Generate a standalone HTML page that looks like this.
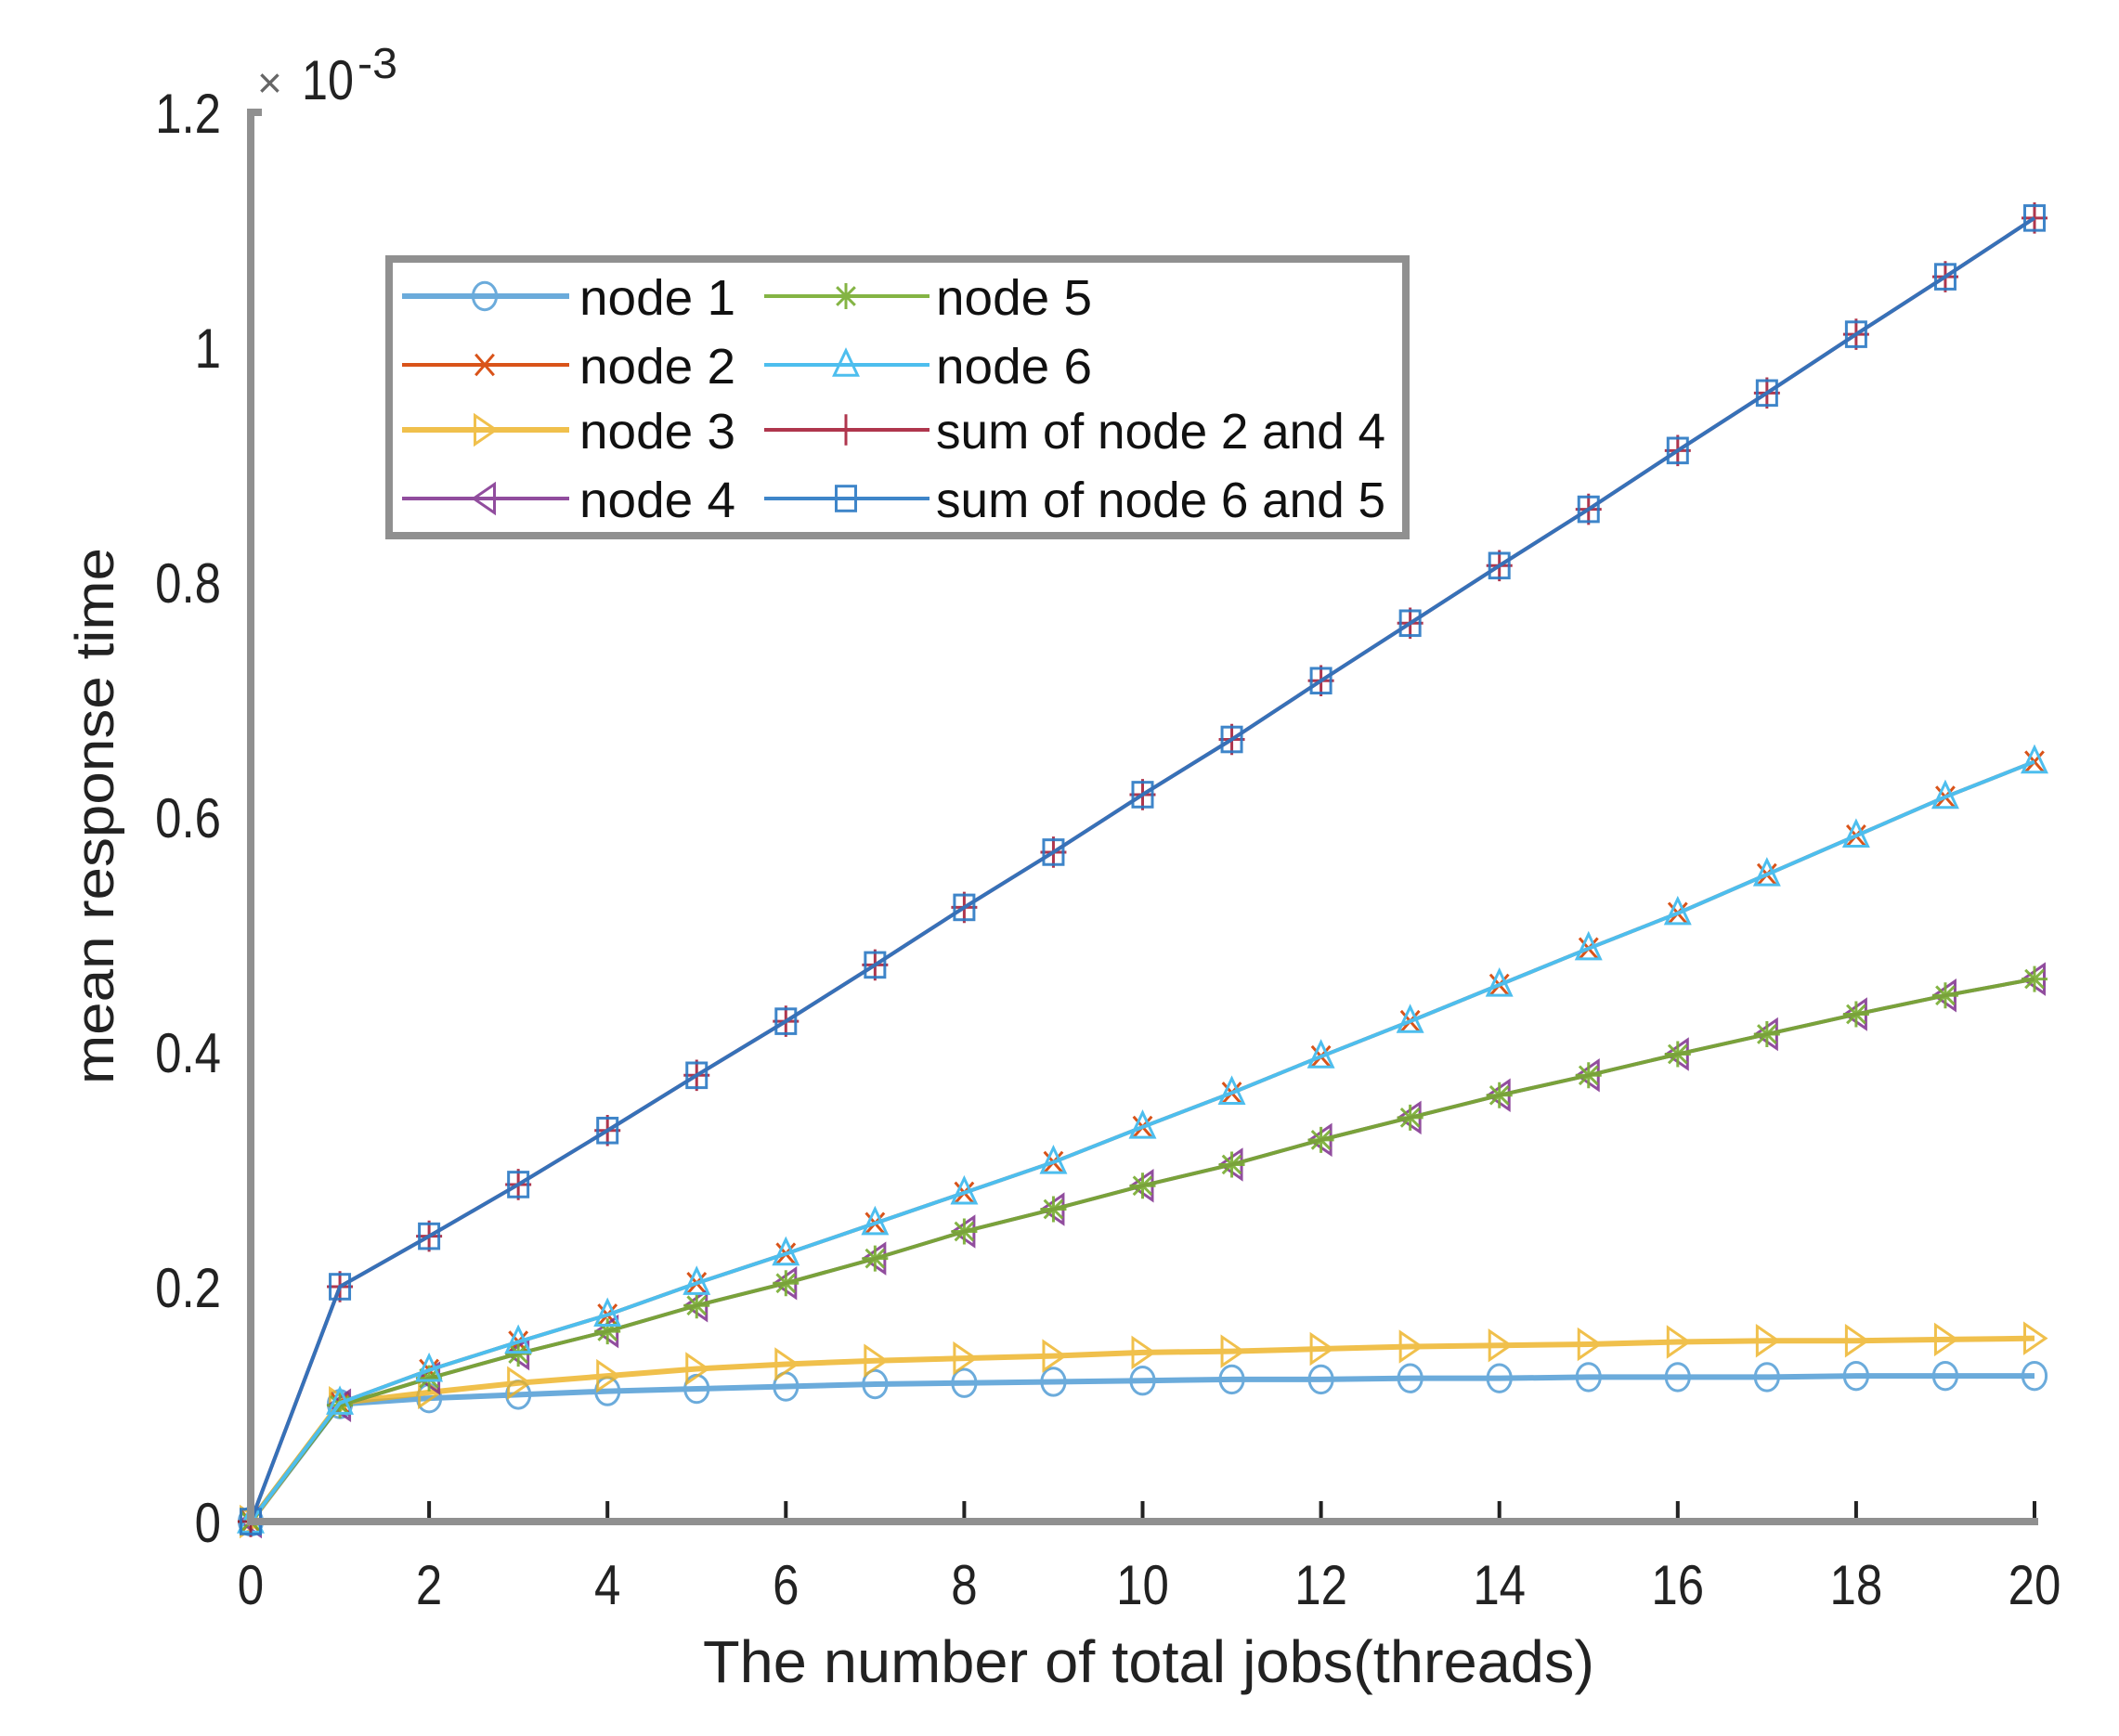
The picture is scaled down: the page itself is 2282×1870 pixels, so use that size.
<!DOCTYPE html>
<html><head><meta charset="utf-8"><style>html,body{margin:0;padding:0;background:#fff}svg{display:block}</style></head>
<body>
<svg id="chart" width="2282" height="1870" viewBox="0 0 2282 1870" xmlns="http://www.w3.org/2000/svg" font-family="Liberation Sans, Arial, sans-serif">
<rect width="2282" height="1870" fill="#fff"/>
<g id="plot"></g>
<g id="axes"></g>
<g id="legend"></g>
</svg>
<script>
const xCats = [0,1,2,3,4,5,6,7,8,9,10,11,12,13,14,15,16,17,18,19,20];
const xTickLabels = ["0","2","4","6","8","10","12","14","16","18","20"];
const yTickLabels = ["0","0.2","0.4","0.6","0.8","1","1.2"];
const yTickValues = [0,0.2,0.4,0.6,0.8,1.0,1.2];
const node1 = [0,0.100,0.105,0.108,0.111,0.113,0.115,0.117,0.118,0.119,0.120,0.121,0.121,0.122,0.122,0.123,0.123,0.123,0.124,0.124,0.124];
const node2 = [0,0.101,0.129,0.153,0.176,0.203,0.228,0.254,0.280,0.306,0.336,0.365,0.396,0.426,0.457,0.488,0.518,0.551,0.584,0.617,0.647];
const node3 = [0,0.101,0.110,0.118,0.124,0.130,0.134,0.137,0.139,0.141,0.144,0.145,0.147,0.149,0.150,0.151,0.153,0.154,0.154,0.155,0.156];
const node4 = [0,0.099,0.122,0.143,0.162,0.184,0.203,0.224,0.247,0.266,0.286,0.304,0.325,0.344,0.363,0.380,0.398,0.415,0.432,0.448,0.462];
const node5 = [0,0.099,0.122,0.143,0.162,0.184,0.203,0.224,0.247,0.266,0.286,0.304,0.325,0.344,0.363,0.380,0.398,0.415,0.432,0.448,0.462];
const node6 = [0,0.101,0.129,0.153,0.176,0.203,0.228,0.254,0.280,0.306,0.336,0.365,0.396,0.426,0.457,0.488,0.518,0.551,0.584,0.617,0.647];
const sum24 = [0,0.200,0.243,0.287,0.333,0.380,0.426,0.474,0.523,0.570,0.619,0.666,0.716,0.765,0.814,0.862,0.912,0.961,1.011,1.060,1.110];
const sum65 = [0,0.200,0.243,0.287,0.333,0.380,0.426,0.474,0.523,0.570,0.619,0.666,0.716,0.765,0.814,0.862,0.912,0.961,1.011,1.060,1.110];

const NS="http://www.w3.org/2000/svg";
const X0=270, X1=2191, Y0=1639, Y1=121;
function xs(v){return X0+(v-0)/(20-0)*(X1-X0);}
function ys(v){return Y0-(v-0)/(1.2-0)*(Y0-Y1);}
function mk(tag,attrs,parent){const e=document.createElementNS(NS,tag);for(const k in attrs)e.setAttribute(k,attrs[k]);parent.appendChild(e);return e;}

function marker(type,cx,cy,color,g,r){
  r=r||14;let e;
  if(type==='o'){e=mk('ellipse',{cx:cx,cy:cy,rx:r*0.9,ry:r*1.05,fill:'none',stroke:color,'stroke-width':3},g);}
  else if(type==='x'){e=mk('path',{d:`M${cx-r*0.7},${cy-r*0.8}L${cx+r*0.7},${cy+r*0.8}M${cx-r*0.7},${cy+r*0.8}L${cx+r*0.7},${cy-r*0.8}`,stroke:color,'stroke-width':3,fill:'none'},g);}
  else if(type==='>'){e=mk('path',{d:`M${cx-r*0.75},${cy-r*1.1}L${cx+r*0.85},${cy}L${cx-r*0.75},${cy+r*1.1}Z`,fill:'none',stroke:color,'stroke-width':3},g);}
  else if(type==='<'){e=mk('path',{d:`M${cx+r*0.75},${cy-r*1.1}L${cx-r*0.85},${cy}L${cx+r*0.75},${cy+r*1.1}Z`,fill:'none',stroke:color,'stroke-width':3},g);}
  else if(type==='*'){e=mk('path',{d:`M${cx-r},${cy}L${cx+r},${cy}M${cx},${cy-r}L${cx},${cy+r}M${cx-r*0.7},${cy-r*0.7}L${cx+r*0.7},${cy+r*0.7}M${cx-r*0.7},${cy+r*0.7}L${cx+r*0.7},${cy-r*0.7}`,stroke:color,'stroke-width':3,fill:'none'},g);}
  else if(type==='^'){e=mk('path',{d:`M${cx},${cy-r*1.1}L${cx+r*0.9},${cy+r*0.8}L${cx-r*0.9},${cy+r*0.8}Z`,fill:'none',stroke:color,'stroke-width':3},g);}
  else if(type==='+'){e=mk('path',{d:`M${cx-r},${cy}L${cx+r},${cy}M${cx},${cy-r*1.2}L${cx},${cy+r*1.2}`,stroke:color,'stroke-width':3,fill:'none'},g);}
  else if(type==='s'){e=mk('rect',{x:cx-r*0.75,y:cy-r*0.95,width:r*1.5,height:r*1.9,fill:'none',stroke:color,'stroke-width':3},g);}
  return e;
}

const series=[
 {name:'node 1',data:node1,color:'#3A8FD0',lw:6,op:0.75,m:'o'},
 {name:'node 2',data:node2,color:'#D95319',lw:4,op:1,m:'x'},
 {name:'node 3',data:node3,color:'#EDB120',lw:6,op:0.8,m:'>'},
 {name:'node 4',data:node4,color:'#7E2F8E',lw:4,op:0.85,m:'<'},
 {name:'node 5',data:node5,color:'#77AC30',lw:4,op:0.9,m:'*'},
 {name:'node 6',data:node6,color:'#4DBEEE',lw:4,op:1,m:'^'},
 {name:'sum of node 2 and 4',data:sum24,color:'#A2142F',lw:4,op:0.85,m:'+'},
 {name:'sum of node 6 and 5',data:sum65,color:'#2A78C4',lw:4,op:0.9,m:'s'}
];
const plot=document.getElementById('plot');
series.forEach((s,i)=>{
  const g=mk('g',{opacity:s.op},plot);
  
  
  const pts=s.data.map((v,j)=>xs(xCats[j])+','+ys(v)).join(' ');
  const pl=mk('polyline',{points:pts,fill:'none',stroke:s.color,'stroke-width':s.lw,'stroke-linejoin':'round'},g);
  
  
  s.data.forEach((v,j)=>{
    const m=marker(s.m,xs(xCats[j]),ys(v),s.color,g);
    
    
  });
});

const axes=document.getElementById('axes');
const yl=mk('line',{x1:X0,y1:Y1-4,x2:X0,y2:Y0+4,stroke:'#909090','stroke-width':8},axes);


mk('line',{x1:X0-4,y1:Y1,x2:X0+12,y2:Y1,stroke:'#909090','stroke-width':8},axes);
const xl=mk('line',{x1:X0-4,y1:Y0,x2:X1+4,y2:Y0,stroke:'#909090','stroke-width':8},axes);


xTickLabels.forEach((t,i)=>{
  const v=parseFloat(t);const x=xs(v);
  if(i>0) mk('line',{x1:x,y1:Y0-4,x2:x,y2:Y0-22,stroke:'#222','stroke-width':4},axes);
  const tx=mk('text',{x:x,y:1728,'text-anchor':'middle','font-size':60,fill:'#222',transform:`translate(${x},0) scale(0.85,1) translate(${-x},0)`},axes);
  tx.textContent=t;
  
  
});
yTickLabels.forEach((t,i)=>{
  const y=ys(yTickValues[i]);
  const tx=mk('text',{x:238,y:y+22,'text-anchor':'end','font-size':60,fill:'#222',transform:`translate(238,0) scale(0.85,1) translate(-238,0)`},axes);
  tx.textContent=t;
  
  
});
let t=mk('text',{x:277,y:105,'font-size':46,fill:'#666'},axes);t.textContent='×';


t=mk('text',{x:325,y:107,'font-size':60,fill:'#222',textLength:56,lengthAdjust:'spacingAndGlyphs'},axes);t.textContent='10';


t=mk('text',{x:385,y:84,'font-size':46,fill:'#222',textLength:43,lengthAdjust:'spacingAndGlyphs'},axes);t.textContent='-3';


t=mk('text',{x:1237,y:1812,'text-anchor':'middle','font-size':64,fill:'#222',textLength:960,lengthAdjust:'spacingAndGlyphs'},axes);t.textContent='The number of total jobs(threads)';


t=mk('text',{x:0,y:0,'text-anchor':'middle','font-size':58,fill:'#222',textLength:578,lengthAdjust:'spacingAndGlyphs',transform:'translate(122,879) rotate(-90)'},axes);t.textContent='mean response time';



const lg=document.getElementById('legend');
const box=mk('rect',{x:419,y:279,width:1095,height:298,fill:'#fff',stroke:'#909090','stroke-width':8},lg);


const rows=[319,393,463,537];
const cols=[{l:433,r:613,m:522,t:624},{l:823,r:1001,m:911,t:1008}];
const widths=[[168,168,168,168],[168,168,484,484]];
series.forEach((s,i)=>{
  const c=cols[Math.floor(i/4)],y=rows[i%4];
  const g=mk('g',{},lg);
  
  
  const gg=mk('g',{opacity:s.op},g);
  mk('line',{x1:c.l,y1:y,x2:c.r,y2:y,stroke:s.color,'stroke-width':s.lw},gg);
  marker(s.m,c.m,y,s.color,gg);
  const tx=mk('text',{x:c.t,y:y+20,'font-size':54,fill:'#111',textLength:widths[Math.floor(i/4)][i%4],lengthAdjust:'spacingAndGlyphs'},g);
  tx.textContent=s.name;
});
</script>
</body></html>
